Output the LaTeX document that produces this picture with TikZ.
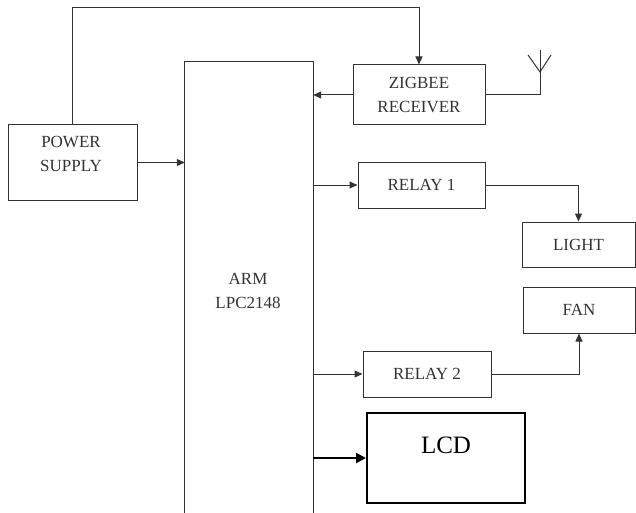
\documentclass[tikz,border=0pt]{standalone}
\usepackage{fontspec}
\setmainfont{Liberation Serif}
\usetikzlibrary{arrows.meta}
\begin{document}
\begin{tikzpicture}[x=1pt,y=-1pt,
  line/.style={draw=black!80, line width=1pt},
  arr/.style={line, -{Triangle[length=8pt,width=7pt]}},
  thickarr/.style={draw=black, line width=2.2pt, -{Triangle[length=10pt,width=10pt]}},
  blk/.style={line, rectangle, inner sep=0pt, align=center, text=black!80,
    font=\fontsize{17}{24}\selectfont},
  txt/.style={inner sep=0pt, align=center, text=black!80,
    font=\fontsize{17}{24}\selectfont}]
\useasboundingbox (0,0) rectangle (636,513);
\fill[white] (0,0) rectangle (636,513);
% blocks
\node[blk, minimum width=129pt, minimum height=75pt] (ps) at (72.5,162.5) {};
\node[txt] (pstext) at (71,154) {POWER\\SUPPLY};
\node[draw=none, minimum width=128pt, minimum height=451pt, inner sep=0pt] (arm) at (249,287.5) {};
\node[txt] (armtext) at (248,291) {ARM\\LPC2148};
\node[blk, minimum width=132pt, minimum height=60pt] (zb) at (419,95) {ZIGBEE\\RECEIVER};
\node[blk, minimum width=127pt, minimum height=46pt] (r1) at (421.5,185) {RELAY 1};
\node[blk, minimum width=113pt, minimum height=45pt] (light) at (578.5,244.5) {LIGHT};
\node[blk, minimum width=112pt, minimum height=46pt] (fan) at (579,310) {FAN};
\node[blk, minimum width=128pt, minimum height=46pt] (r2) at (427,374) {RELAY 2};
\node[blk, line width=2pt, draw=black, minimum width=158pt, minimum height=90pt] (lcd) at (446,458) {};
\node[txt, text=black, font=\fontsize{25}{30}\selectfont] (lcdtext) at (446,445) {LCD};
% ARM box (open at bottom)
\draw[line] (arm.south west) -- (arm.north west) -- (arm.north east) -- (arm.south east);
% connectors
\coordinate (top) at (0,8);
\draw[arr] (ps.north) -- (ps.north |- top) -| (zb.north);
\draw[arr] (ps.east) -- (ps.east -| arm.west);
\draw[arr] (zb.west) -- (zb.west -| arm.east);
\draw[arr] (r1.west -| arm.east) -- (r1.west);
\draw[arr] (r2.west -| arm.east) -- (r2.west);
\draw[thickarr] (lcd.west -| arm.east) -- (lcd.west);
\draw[arr] (r1.east) -| (light.north);
\draw[arr] (r2.east) -| (fan.south);
% antenna
\coordinate (antC) at (540,72);
\coordinate (antT) at (540,50);
\coordinate (antL) at (528,55);
\coordinate (antR) at (551,55);
\draw[line] (zb.east) -| (antT);
\draw[line] (antL) -- (antC) -- (antR);
\end{tikzpicture}
\end{document}
